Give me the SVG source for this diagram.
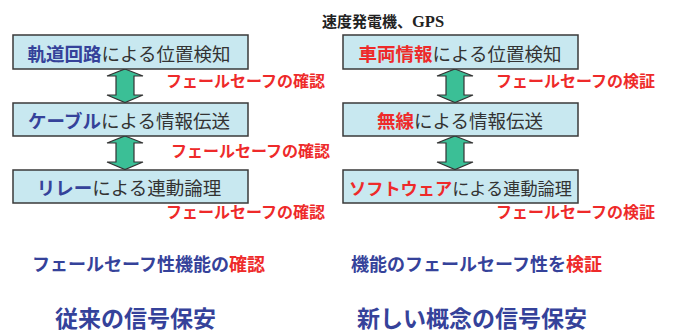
<svg xmlns="http://www.w3.org/2000/svg" width="673" height="334" viewBox="0 0 673 334">
<style>
.box{fill:#c8e8f0;stroke:#3a3a3a;stroke-width:1.5}
.bt{font-family:"Noto Sans CJK JP","Noto Sans",sans-serif;font-size:18.5px;fill:#333;text-anchor:middle}
.bl{fill:#35429a;font-weight:bold}
.rd{fill:#ee2a2a;font-weight:bold}
.lab{font-family:"Noto Sans CJK JP","Noto Sans",sans-serif;font-size:16px;font-weight:bold;fill:#ee2a2a}
.arr{fill:#3bbf96;stroke:#333;stroke-width:1.2}
.bot{font-family:"Noto Sans CJK JP","Noto Sans",sans-serif;font-weight:bold;fill:#35429a}
</style>
<defs>
<path id="dbl" d="M0,0 L18,7 L9,7 L9,26 L18,26 L0,33.5 L-18,26 L-9,26 L-9,7 L-18,7 Z"/>
</defs>
<rect width="673" height="334" fill="#fff"/>
<g id="connectors">
<use href="#dbl" class="arr" x="125" y="69"/>
<use href="#dbl" class="arr" x="125" y="136"/>
<use href="#dbl" class="arr" x="455" y="69"/>
<use href="#dbl" class="arr" x="455" y="136"/>
</g>
<g id="n1"><rect class="box" x="13" y="35" width="235" height="34"/><text class="bt" x="129" y="61"><tspan class="bl">軌道回路</tspan>による位置検知</text></g>
<g id="n2"><rect class="box" x="13" y="103" width="235" height="33"/><text class="bt" x="129" y="128"><tspan class="bl">ケーブル</tspan>による情報伝送</text></g>
<g id="n3"><rect class="box" x="13" y="170" width="235" height="33"/><text class="bt" x="129" y="195"><tspan class="bl">リレー</tspan>による連動論理</text></g>
<g id="n4"><rect class="box" x="343" y="35" width="235" height="34"/><text class="bt" x="460" y="61"><tspan class="rd">車両情報</tspan>による位置検知</text></g>
<g id="n5"><rect class="box" x="343" y="103" width="235" height="33"/><text class="bt" x="460" y="128"><tspan class="rd">無線</tspan>による情報伝送</text></g>
<g id="n6"><rect class="box" x="343" y="170" width="235" height="33"/><text class="bt" x="460.5" y="195" style="font-size:17.2px"><tspan class="rd">ソフトウェア</tspan>による連動論理</text></g>
<g id="labels">
<text class="lab" x="166" y="87">フェールセーフの確認</text>
<text class="lab" x="171" y="157">フェールセーフの確認</text>
<text class="lab" x="166" y="218">フェールセーフの確認</text>
<text class="lab" x="496" y="87">フェールセーフの検証</text>
<text class="lab" x="496" y="218">フェールセーフの検証</text>
<text x="322" y="27" font-family="Noto Sans CJK JP,sans-serif" font-size="15" font-weight="bold" fill="#222">速度発電機、<tspan font-family="Liberation Serif,serif" font-size="16.5">GPS</tspan></text>
<text class="bot" x="32" y="271" font-size="18">フェールセーフ性機能の<tspan class="rd">確認</tspan></text>
<text class="bot" x="351" y="271" font-size="18">機能のフェールセーフ性を<tspan class="rd">検証</tspan></text>
<text class="bot" x="55" y="327" font-size="23">従来の信号保安</text>
<text class="bot" x="357" y="327" font-size="23">新しい概念の信号保安</text>
</g>
</svg>
